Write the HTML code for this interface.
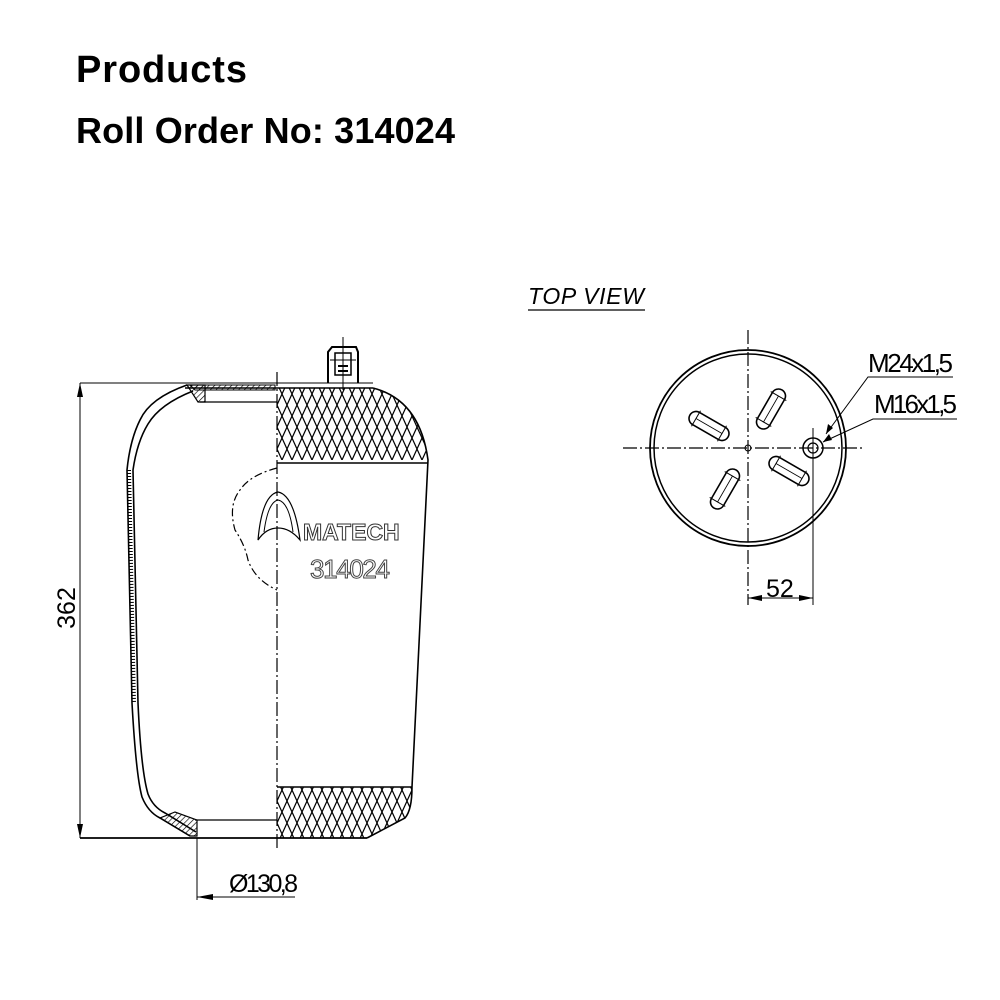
<!DOCTYPE html>
<html><head><meta charset="utf-8"><style>
html,body{margin:0;padding:0;background:#fff}
svg{display:block}
</style></head><body>
<svg width="1000" height="1000" viewBox="0 0 1000 1000" xmlns="http://www.w3.org/2000/svg" font-family="Liberation Sans, sans-serif">
<defs>
<pattern id="net" width="10" height="22" patternUnits="userSpaceOnUse" x="277" y="383">
<path d="M0,0 L10,22 M10,0 L0,22" stroke="#000" stroke-width="1.2" fill="none"/>
</pattern>
<pattern id="hat" width="4" height="4" patternUnits="userSpaceOnUse" patternTransform="rotate(45)">
<line x1="0" y1="0" x2="0" y2="4" stroke="#000" stroke-width="1.3"/>
</pattern>
<clipPath id="topnet"><path d="M277,388 L373,388 Q420,400 428,460 L277,460 Z"/></clipPath>
<clipPath id="botnet"><path d="M277,787 L412,787 Q412,810 405,818 L367,838 L277,838 Z"/></clipPath>
</defs>
<rect width="1000" height="1000" fill="#fff"/>
<text x="76" y="82" font-size="38" font-weight="bold" fill="#000" textLength="171">Products</text>
<text x="76" y="143" font-size="36" font-weight="bold" fill="#000" textLength="379">Roll Order No: 314024</text>

<g stroke="#000" fill="none">
<line x1="80" y1="383" x2="373" y2="383" stroke-width="1"/>
<line x1="185" y1="388" x2="373" y2="388" stroke-width="1.5"/>
<line x1="80" y1="838" x2="367" y2="838" stroke-width="1.8"/>
<line x1="200" y1="402" x2="277" y2="402" stroke-width="1.3"/>
<line x1="195" y1="820" x2="277" y2="820" stroke-width="1.3"/>
<path d="M190,385 L275,385 L275,390 L195,390 Z" fill="url(#hat)" stroke-width="1"/>
<path d="M328,383 L328,352 L332,347 L356,347 L358,352 L358,383" stroke-width="2"/>
<rect x="335" y="353" width="16" height="22" stroke-width="1.5"/>
<line x1="330" y1="360" x2="356" y2="360" stroke-width="1"/>
<line x1="338" y1="366" x2="348" y2="366" stroke-width="2"/>
<line x1="338" y1="371" x2="348" y2="371" stroke-width="2"/>
<line x1="343" y1="337" x2="343" y2="390" stroke-width="1"/>
<path d="M187,385 Q150,398 140,420 Q130,440 127,470 L132,703 Q136,775 142,797 Q148,812 160,818 L190,836" stroke-width="1.6"/>
<path d="M193,391 Q160,404 148,424 Q137,442 133,470 L138,703 Q141,770 148,794 Q153,807 165,813 L196,832" stroke-width="1.6"/>
<path d="M129,470 L134,703" stroke="#000" stroke-width="4" stroke-dasharray="1 2"/>
<path d="M187,385 L205,385 L205,402 L198,402 Z" fill="url(#hat)" stroke-width="1.2"/>
<path d="M160,818 L190,836 L197,836 L197,820 L175,812 Z" fill="url(#hat)" stroke-width="1.2"/>
<path d="M373,388 Q420,400 428,460 L412,787 Q412,810 405,818 L367,838" stroke-width="1.6"/>
<line x1="277" y1="463" x2="428" y2="463" stroke-width="1.6"/>
<line x1="277" y1="787" x2="412" y2="787" stroke-width="1.6"/>
<rect x="277" y="383" width="160" height="80" fill="url(#net)" stroke="none" clip-path="url(#topnet)"/>
<rect x="277" y="787" width="140" height="52" fill="url(#net)" stroke="none" clip-path="url(#botnet)"/>
<line x1="277" y1="372" x2="277" y2="848" stroke-width="1.2" stroke-dasharray="14 3 2 3"/>
<path d="M277,468 Q250,475 240,490 Q228,505 235,530 Q245,545 248,560 Q255,580 277,590" stroke-width="1.2" stroke-dasharray="8 3 2 3"/>
<path d="M258,540 Q262,495 278,492 Q294,495 300,540 Q290,528 278,528 Q266,528 258,540 Z" stroke-width="1.2"/>
<path d="M264,532 Q268,502 278,500 Q289,502 293,532" stroke-width="1"/>
<line x1="80" y1="383" x2="80" y2="838" stroke-width="1"/>
<path d="M80,383 l-3,14 h6 Z M80,838 l-3,-14 h6 Z" fill="#000" stroke="none"/>
<line x1="197" y1="838" x2="197" y2="900" stroke-width="1"/>
<line x1="197" y1="897" x2="295" y2="897" stroke-width="1"/>
<path d="M197,897 l16,-3 v6 Z" fill="#000" stroke="none"/>
</g>
<text x="303" y="540" font-size="23" font-weight="bold" fill="#fff" stroke="#333" stroke-width="1">MATECH</text>
<text x="310" y="578" font-size="26" fill="#fff" stroke="#444" stroke-width="1" textLength="80">314024</text>
<text transform="translate(75,608) rotate(-90)" font-size="25" text-anchor="middle" fill="#000">362</text>
<text x="229" y="892" font-size="25" fill="#000" textLength="69">Ø130,8</text>

<text x="528" y="304" font-size="23" font-style="italic" fill="#000" textLength="116">TOP VIEW</text>
<line x1="528" y1="310" x2="645" y2="310" stroke="#000" stroke-width="1.2"/>
<g stroke="#000" fill="none">
<circle cx="748" cy="448" r="98" stroke-width="1.8"/>
<circle cx="748" cy="448" r="94" stroke-width="1.5"/>
<line x1="623" y1="448" x2="865" y2="448" stroke-width="1.2" stroke-dasharray="14 3 2 3"/>
<line x1="748" y1="330" x2="748" y2="605" stroke-width="1.2" stroke-dasharray="14 3 2 3"/>
<circle cx="748" cy="448" r="3" stroke-width="1"/>
<g stroke-width="1.6">
<g transform="translate(709,426) rotate(30)"><rect x="-22" y="-7" width="44" height="14" rx="7"/><line x1="-15" y1="-9" x2="-15" y2="9" stroke-width="1"/><line x1="15" y1="-9" x2="15" y2="9" stroke-width="1"/><line x1="-15" y1="0" x2="15" y2="0" stroke-width="0.8"/></g>
<g transform="translate(771,409) rotate(-60)"><rect x="-22" y="-7" width="44" height="14" rx="7"/><line x1="-15" y1="-9" x2="-15" y2="9" stroke-width="1"/><line x1="15" y1="-9" x2="15" y2="9" stroke-width="1"/><line x1="-15" y1="0" x2="15" y2="0" stroke-width="0.8"/></g>
<g transform="translate(789,471) rotate(30)"><rect x="-22" y="-7" width="44" height="14" rx="7"/><line x1="-15" y1="-9" x2="-15" y2="9" stroke-width="1"/><line x1="15" y1="-9" x2="15" y2="9" stroke-width="1"/><line x1="-15" y1="0" x2="15" y2="0" stroke-width="0.8"/></g>
<g transform="translate(725,489) rotate(-60)"><rect x="-22" y="-7" width="44" height="14" rx="7"/><line x1="-15" y1="-9" x2="-15" y2="9" stroke-width="1"/><line x1="15" y1="-9" x2="15" y2="9" stroke-width="1"/><line x1="-15" y1="0" x2="15" y2="0" stroke-width="0.8"/></g>
</g>
<circle cx="813" cy="448" r="10" stroke-width="1.5"/>
<circle cx="813" cy="448" r="5" stroke-width="1.2"/>
<line x1="813" y1="428" x2="813" y2="605" stroke-width="1"/>
<line x1="748" y1="598" x2="813" y2="598" stroke-width="1"/>
<path d="M748,598 l14,-3 v6 Z M813,598 l-14,-3 v6 Z" fill="#000" stroke="none"/>
<polyline points="953,377 868,377 826,434" stroke-width="1"/>
<polyline points="957,419 873,419 823,442" stroke-width="1"/>
<path d="M826,434 l2,-10 l5,4 Z M823,442 l6,-8 l3,6 Z" fill="#000" stroke="none"/>
</g>
<text x="868" y="372" font-size="26" fill="#000" textLength="85">M24x1,5</text>
<text x="874" y="413" font-size="26" fill="#000" textLength="83">M16x1,5</text>
<text x="766" y="597" font-size="25" fill="#000">52</text>
</svg>
</body></html>
